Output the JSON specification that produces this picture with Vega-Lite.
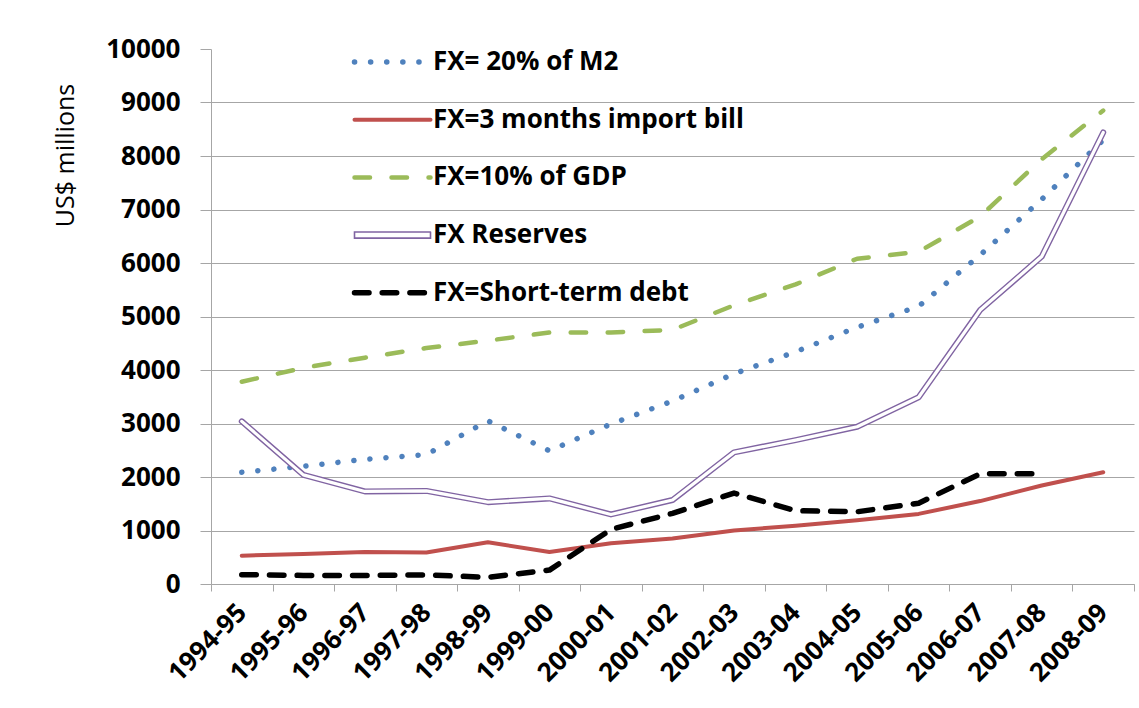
{
  "$schema": "https://vega.github.io/schema/vega-lite/v6.json",
  "width": 923,
  "height": 535,
  "autosize": {"type": "none"},
  "padding": {"left": 211, "top": 49, "right": 5, "bottom": 124},
  "background": "white",
  "config": {
    "view": {"stroke": null},
    "font": "Open Sans",
    "legend": {
      "orient": "none",
      "legendX": 168.5,
      "legendY": 0,
      "symbolType": "stroke",
      "symbolSize": 5776,
      "labelFont": "Open Sans",
      "labelFontSize": 26,
      "labelFontWeight": "bold",
      "labelColor": "black",
      "labelOffset": 27.5,
      "labelLimit": 600,
      "rowPadding": 31.7,
      "padding": 0
    }
  },
  "data": {
    "values": [
      {"year": "1994-95", "FX= 20% of M2": 2090, "FX=3 months import bill": 530, "FX=10% of GDP": 3780, "FX Reserves": 3040, "FX=Short-term debt": 175},
      {"year": "1995-96", "FX= 20% of M2": 2200, "FX=3 months import bill": 560, "FX=10% of GDP": 4040, "FX Reserves": 2040, "FX=Short-term debt": 160},
      {"year": "1996-97", "FX= 20% of M2": 2330, "FX=3 months import bill": 600, "FX=10% of GDP": 4230, "FX Reserves": 1730, "FX=Short-term debt": 160},
      {"year": "1997-98", "FX= 20% of M2": 2420, "FX=3 months import bill": 590, "FX=10% of GDP": 4410, "FX Reserves": 1740, "FX=Short-term debt": 170},
      {"year": "1998-99", "FX= 20% of M2": 3050, "FX=3 months import bill": 780, "FX=10% of GDP": 4550, "FX Reserves": 1530, "FX=Short-term debt": 125},
      {"year": "1999-00", "FX= 20% of M2": 2490, "FX=3 months import bill": 600, "FX=10% of GDP": 4700, "FX Reserves": 1600, "FX=Short-term debt": 260},
      {"year": "2000-01", "FX= 20% of M2": 2990, "FX=3 months import bill": 760, "FX=10% of GDP": 4700, "FX Reserves": 1300, "FX=Short-term debt": 1020},
      {"year": "2001-02", "FX= 20% of M2": 3420, "FX=3 months import bill": 850, "FX=10% of GDP": 4750, "FX Reserves": 1570, "FX=Short-term debt": 1320},
      {"year": "2002-03", "FX= 20% of M2": 3930, "FX=3 months import bill": 1000, "FX=10% of GDP": 5210, "FX Reserves": 2460, "FX=Short-term debt": 1700},
      {"year": "2003-04", "FX= 20% of M2": 4340, "FX=3 months import bill": 1090, "FX=10% of GDP": 5600, "FX Reserves": 2690, "FX=Short-term debt": 1370},
      {"year": "2004-05", "FX= 20% of M2": 4800, "FX=3 months import bill": 1190, "FX=10% of GDP": 6080, "FX Reserves": 2940, "FX=Short-term debt": 1350},
      {"year": "2005-06", "FX= 20% of M2": 5190, "FX=3 months import bill": 1310, "FX=10% of GDP": 6210, "FX Reserves": 3490, "FX=Short-term debt": 1510},
      {"year": "2006-07", "FX= 20% of M2": 6150, "FX=3 months import bill": 1550, "FX=10% of GDP": 6870, "FX Reserves": 5120, "FX=Short-term debt": 2060},
      {"year": "2007-08", "FX= 20% of M2": 7190, "FX=3 months import bill": 1840, "FX=10% of GDP": 7940, "FX Reserves": 6120, "FX=Short-term debt": 2060},
      {"year": "2008-09", "FX= 20% of M2": 8300, "FX=3 months import bill": 2090, "FX=10% of GDP": 8850, "FX Reserves": 8440, "FX=Short-term debt": null}
    ]
  },
  "transform": [
    {"fold": ["FX= 20% of M2", "FX=3 months import bill", "FX=10% of GDP", "FX Reserves", "FX=Short-term debt"], "as": ["series", "value"]}
  ],
  "encoding": {
    "x": {
      "field": "year",
      "type": "ordinal",
      "sort": null,
      "scale": {"type": "band", "paddingInner": 0, "paddingOuter": 0},
      "axis": {
        "title": null,
        "labelAngle": -45,
        "labelAlign": "right",
        "labelBaseline": "middle",
        "labelFont": "Open Sans",
        "labelFontSize": 26,
        "labelFontWeight": "bold",
        "labelColor": "black",
        "labelPadding": 17,
        "tickBand": "extent",
        "tickSize": 7,
        "tickColor": "#A6A6A6",
        "domainColor": "#A6A6A6",
        "grid": false
      }
    },
    "y": {
      "field": "value",
      "type": "quantitative",
      "scale": {"domain": [0, 10000], "nice": false},
      "axis": {
        "values": [0, 1000, 2000, 3000, 4000, 5000, 6000, 7000, 8000, 9000, 10000],
        "format": "d",
        "title": "US$ millions",
        "titleFont": "Open Sans",
        "titleFontSize": 25,
        "titleFontWeight": "normal",
        "titleColor": "black",
        "titleAngle": -90,
        "titleX": -146,
        "titleY": 106,
        "titleAlign": "center",
        "titleBaseline": "middle",
        "labelFont": "Open Sans",
        "labelFontSize": 26,
        "labelFontWeight": "bold",
        "labelColor": "black",
        "labelPadding": 20,
        "tickSize": 11,
        "tickColor": "#A6A6A6",
        "domainColor": "#A6A6A6",
        "grid": true,
        "gridColor": "#A6A6A6",
        "gridWidth": 1.2,
        "gridOpacity": {"condition": {"test": "datum.value >= 10000", "value": 0}, "value": 1}
      }
    },
    "color": {
      "field": "series",
      "type": "nominal",
      "scale": {
        "domain": ["FX= 20% of M2", "FX=3 months import bill", "FX=10% of GDP", "FX Reserves", "FX=Short-term debt"],
        "range": ["#4F81BD", "#C0504D", "#9BBB59", "#8064A2", "#000000"]
      },
      "legend": {
        "title": null,
        "encode": {
          "symbols": {
            "update": {
              "strokeCap": {"value": "round"},
              "shape": {"signal": "datum.value === 'FX Reserves' ? 'M-1,-0.08H1V0.08H-1Z' : 'stroke'"},
              "fill": {"signal": "datum.value === 'FX Reserves' ? 'white' : 'transparent'"},
              "strokeWidth": {"signal": "datum.value === 'FX Reserves' ? 1.6 : (datum.value === 'FX=3 months import bill' ? 4 : (datum.value === 'FX=10% of GDP' ? 4.5 : 5.5))"},
              "strokeDash": {"signal": "datum.value === 'FX= 20% of M2' ? [0.1, 16] : (datum.value === 'FX=10% of GDP' ? [15.5, 21.5] : (datum.value === 'FX=Short-term debt' ? [14.5, 13.2] : [1, 0]))"}
            }
          }
        }
      }
    }
  },
  "layer": [
    {
      "transform": [{"filter": "datum.series === 'FX= 20% of M2'"}],
      "mark": {"type": "line", "strokeWidth": 5.5, "strokeDash": [0.1, 16], "strokeCap": "round", "strokeJoin": "round"}
    },
    {
      "transform": [{"filter": "datum.series === 'FX=3 months import bill'"}],
      "mark": {"type": "line", "strokeWidth": 4, "strokeCap": "round", "strokeJoin": "round"}
    },
    {
      "transform": [{"filter": "datum.series === 'FX=10% of GDP'"}],
      "mark": {"type": "line", "strokeWidth": 4.5, "strokeDash": [15.5, 21.5], "strokeCap": "round", "strokeJoin": "round"}
    },
    {
      "transform": [{"filter": "datum.series === 'FX Reserves'"}],
      "mark": {"type": "line", "strokeWidth": 6, "strokeCap": "round", "strokeJoin": "round"}
    },
    {
      "transform": [{"filter": "datum.series === 'FX Reserves'"}],
      "mark": {"type": "line", "strokeWidth": 3.2, "strokeCap": "round", "strokeJoin": "round"},
      "encoding": {"color": {"value": "white"}}
    },
    {
      "transform": [{"filter": "datum.series === 'FX=Short-term debt'"}],
      "mark": {"type": "line", "strokeWidth": 5.5, "strokeDash": [14.5, 13.2], "strokeCap": "round", "strokeJoin": "round"}
    }
  ]
}
